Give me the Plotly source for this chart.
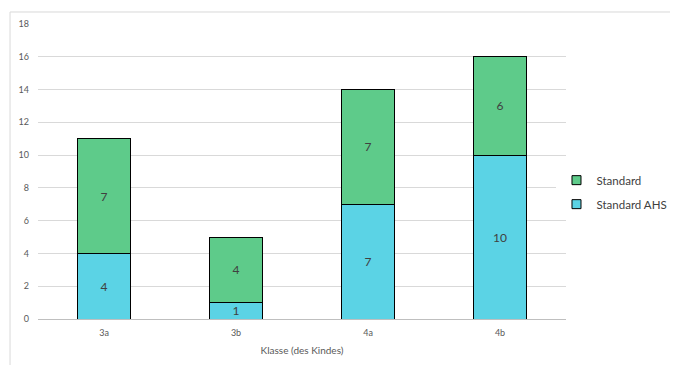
import plotly.graph_objects as go

categories = ["3a", "3b", "4a", "4b"]
standard_ahs = [4, 1, 7, 10]
standard = [7, 4, 7, 6]
y_ticks = [0, 2, 4, 6, 8, 10, 12, 14, 16, 18]

FONT = "Lato, Open Sans, sans-serif"
C_AHS = "#5bd3e5"
C_STD = "#5ecb8a"
fig = go.Figure()
fig.add_bar(x=categories, y=standard_ahs, name="Standard AHS", showlegend=False,
            marker=dict(color=C_AHS, line=dict(color="#000000", width=1)),
            text=standard_ahs, textposition="inside", insidetextanchor="middle", textangle=0,
            constraintext="none",
            textfont=dict(color="#404040", size=12, family=FONT), width=0.4)
fig.add_bar(x=categories, y=standard, name="Standard", showlegend=False,
            marker=dict(color=C_STD, line=dict(color="#000000", width=1)),
            text=standard, textposition="inside", insidetextanchor="middle", textangle=0,
            constraintext="none",
            textfont=dict(color="#404040", size=12, family=FONT), width=0.4)
# legend entries (small square symbols)
fig.add_scatter(x=[None], y=[None], mode="markers", name="Standard", legendgroup="a", legendrank=1,
                marker=dict(symbol="square", size=9, color=C_STD, line=dict(color="#000000", width=1)))
fig.add_scatter(x=[None], y=[None], mode="markers", name="Standard AHS", legendgroup="b", legendrank=2,
                marker=dict(symbol="square", size=9, color=C_AHS, line=dict(color="#000000", width=1)))

fig.update_layout(
    barmode="stack",
    width=670, height=357,
    margin=dict(l=30, r=112, t=16, b=46, autoexpand=False),
    paper_bgcolor="white", plot_bgcolor="white",
    font=dict(family=FONT, color="#595959", size=9),
    showlegend=True,
    legend=dict(traceorder="grouped", x=0.982, y=0.43, yanchor="middle", xanchor="left",
                font=dict(size=11.5, color="#404040"), itemwidth=30, tracegroupgap=5),
    uniformtext=dict(mode="show", minsize=8),
)
fig.update_xaxes(showgrid=False, ticks="", title=dict(text="Klasse (des Kindes)", font=dict(size=10, color="#595959"), standoff=9),
                 tickfont=dict(size=9, color="#595959"), showline=False, automargin=False,
                 ticklabelstandoff=7)
fig.update_yaxes(range=[0, 18], tickvals=y_ticks, showgrid=True, gridcolor="#d9d9d9", gridwidth=1,
                 zeroline=True, zerolinecolor="#bfbfbf", zerolinewidth=1, automargin=False,
                 tickfont=dict(size=9, color="#595959"), ticklabelstandoff=8)
fig.add_shape(type="line", xref="paper", yref="paper", x0=-0.053, y0=-0.3, x1=-0.053, y1=1.0407,
              line=dict(color="#d9d9d9", width=1), layer="below")
fig.add_shape(type="line", xref="paper", yref="paper", x0=-0.053, y0=1.0407, x1=1.3, y1=1.0407,
              line=dict(color="#d9d9d9", width=1), layer="below")

fig.write_html("out.html", config={"displayModeBar": False})
